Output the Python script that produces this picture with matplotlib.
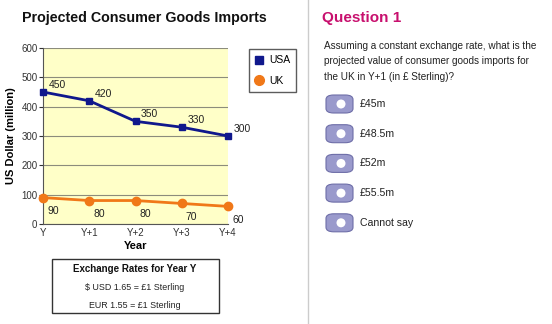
import matplotlib
matplotlib.use("Agg")
import matplotlib.pyplot as plt
from matplotlib.patches import Rectangle, FancyBboxPatch, Ellipse
from matplotlib.lines import Line2D

plt.rcParams['font.family'] = ['Liberation Sans', 'DejaVu Sans']

years = ["Y", "Y+1", "Y+2", "Y+3", "Y+4"]
usa = [450, 420, 350, 330, 300]
uk = [90, 80, 80, 70, 60]
yticks = [0, 100, 200, 300, 400, 500, 600]
options = ["£45m", "£48.5m", "£52m", "£55.5m", "Cannot say"]
question = ["Assuming a constant exchange rate, what is the",
            "projected value of consumer goods imports for",
            "the UK in Y+1 (in £ Sterling)?"]
rates = ["$ USD 1.65 = £1 Sterling", "EUR 1.55 = £1 Sterling"]

W, H = 552, 324
fig = plt.figure(figsize=(W / 100, H / 100), dpi=100)
fig.patch.set_facecolor("white")

def fx(px):
    return px / W

def fy(py):
    return 1 - py / H

# main axes
ax = fig.add_axes([fx(43), fy(224), fx(228) - fx(43), fy(48) - fy(224)])
ax.set_facecolor("#ffffc8")
x = list(range(len(years)))
ax.plot(x, usa, color="#10188c", lw=2, marker="s", ms=5, zorder=3, clip_on=False)
ax.plot(x, uk, color="#f07818", lw=2, marker="o", ms=6, zorder=3, clip_on=False)
ax.set_xlim(0, 4)
ax.set_ylim(0, 600)
ax.set_yticks(yticks)
ax.set_xticks(x)
ax.set_xticklabels(years)
ax.grid(axis="y", color="#8c8c7c", lw=0.8)
ax.set_axisbelow(True)
for s in ["top", "right"]:
    ax.spines[s].set_visible(False)
for s in ["left", "bottom"]:
    ax.spines[s].set_color("#555555")
ax.tick_params(axis="both", labelsize=7, colors="#333333", length=3, pad=1)
ax.tick_params(axis="x", length=0, pad=3)
for i, v in enumerate(usa):
    ax.annotate(str(v), (i, v), xytext=(4, 3), textcoords="offset points",
                fontsize=7.5, color="#222222", annotation_clip=False)
for i, v in enumerate(uk):
    ax.annotate(str(v), (i, v), xytext=(3, -12), textcoords="offset points",
                fontsize=7.5, color="#222222", annotation_clip=False)
ax.set_xlabel("Year", fontsize=8, fontweight="bold", labelpad=2)
ax.set_ylabel("US Dollar (million)", fontsize=8, fontweight="bold", labelpad=4)

handles = [Line2D([], [], color="#10188c", marker="s", ls="", ms=6),
           Line2D([], [], color="#f07818", marker="o", ms=7, ls="")]
fig.legend(handles, ["USA", "UK"], loc="upper left",
           bbox_to_anchor=(fx(249), fy(49)), fontsize=7.5, frameon=True,
           fancybox=False, edgecolor="#333333", handlelength=0.8,
           handletextpad=0.5, borderpad=0.6, labelspacing=1.0,
           borderaxespad=0)

fig.text(fx(22), fy(18), "Projected Consumer Goods Imports", fontsize=10.3,
         fontweight="bold", va="center", ha="left", color="#111111")

# exchange box
fig.patches.append(Rectangle((fx(52), fy(313)), fx(219) - fx(52), fy(259) - fy(313),
                             transform=fig.transFigure, fill=False,
                             edgecolor="#333333", lw=1))
fig.text(fx(135), fy(269), "Exchange Rates for Year Y", fontsize=7,
         fontweight="bold", ha="center", va="center", color="#111111")
for j, r in enumerate(rates):
    fig.text(fx(135), fy(287 + 18 * j), r, fontsize=6.4, ha="center",
             va="center", color="#222222")

# right panel
fig.add_artist(Line2D([fx(308), fx(308)], [0, 1], color="#cccccc", lw=1))
fig.text(fx(322), fy(18), "Question 1", fontsize=11, fontweight="bold",
         color="#c8106e", va="center", ha="left")
for j, line in enumerate(question):
    fig.text(fx(324), fy(46 + 15.5 * j), line, fontsize=7.2, color="#222222",
             va="center", ha="left")
for j, opt in enumerate(options):
    cy = 104 + 29.7 * j
    fig.patches.append(FancyBboxPatch((fx(326), fy(cy + 9)), fx(353) - fx(326),
                                      fy(cy - 9) - fy(cy + 9),
                                      boxstyle="round,pad=0,rounding_size=0.014",
                                      transform=fig.transFigure,
                                      facecolor="#9a9acc", edgecolor="#6e6ea8", lw=0.8))
    fig.patches.append(Ellipse((fx(341), fy(cy)), 9 / W, 9 / H,
                               transform=fig.transFigure,
                               facecolor="white", edgecolor="none"))
    fig.text(fx(360), fy(cy), opt, fontsize=7.6, color="#222222",
             va="center", ha="left")

fig.savefig("out.png", dpi=100)
